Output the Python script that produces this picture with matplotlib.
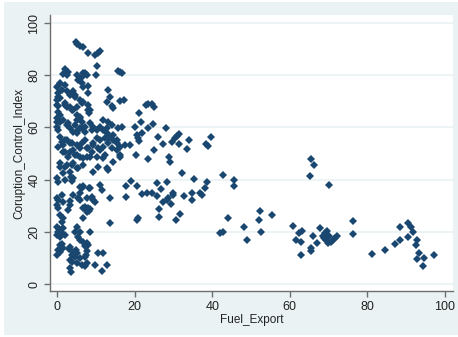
import matplotlib
matplotlib.use('Agg')
import matplotlib.pyplot as plt
from matplotlib.patches import Rectangle

plt.rcParams['font.family'] = ['Liberation Sans', 'DejaVu Sans']

fuel_export = [
    4.9, 5.1, 5.9, 6.8, 8.1, 9.8, 10.6, 11.1, 10.2, 10.0,
    15.6, 16.2, 16.7, 13.2, 13.7, 16.2, 17.3, 13.0, 14.5, 14.1,
    2.1, 2.9, 2.5, 1.6, 5.1, 6.8, 7.7, 6.4, 7.2, 5.5,
    6.4, 6.8, 8.1, 0.3, 1.2, 0.3, 0.8, 0.0, 0.8, 0.1,
    0.3, 0.0, 0.2, 0.3, 2.1, 2.5, 3.4, 4.2, 4.6, 3.8,
    4.6, 8.1, 6.8, 8.1, 8.5, 5.9, 6.4, 8.1, 8.3, 2.1,
    3.4, 4.2, 5.1, 5.9, 5.1, 3.8, 2.1, 2.5, 0.8, 0.0,
    1.6, 2.9, 0.0, 0.8, 0.1, 5.9, 5.1, 6.4, 2.5, 3.4,
    4.6, 5.5, 6.4, 7.2, 4.2, 5.1, 5.9, 0.3, 0.8, 2.1,
    3.4, 1.6, 1.2, 0.3, 1.6, 2.5, 3.8, 5.1, 6.4, 4.2,
    5.9, 5.1, 2.9, 2.1, 3.4, 4.6, 5.9, 7.2, 7.7, 6.8,
    8.1, 7.7, 9.4, 8.9, 7.2, 8.5, 11.9, 13.2, 14.1, 9.4,
    10.2, 8.9, 11.9, 12.8, 13.7, 12.4, 14.5, 13.2, 15.4, 14.1,
    16.2, 15.4, 17.5, 10.2, 9.4, 8.5, 10.2, 12.4, 11.1, 16.2,
    11.1, 12.8, 13.2, 14.5, 15.4, 11.1, 11.9, 10.6, 15.8, 16.7,
    0.8, 2.5, 4.2, 3.4, 1.6, 5.5, 6.8, 0.8, 2.1, 3.8,
    5.1, 0.3, 2.1, 4.2, 0.0, 3.5, 3.8, 10.6, 9.4, 13.2,
    11.9, 14.5, 16.2, 12.8, 5.9, 6.8, 8.5, 11.1, 11.5, 6.4,
    8.3, 4.2, 5.9, 7.7, 9.4, 8.9, 5.9, 5.5, 9.8, 0.0,
    1.2, 1.6, 0.3, 0.0, 0.3, 3.4, 2.9, 3.4, 6.8, 7.7,
    8.5, 7.2, 8.0, 8.2, 7.7, 13.7, 6.8, 13.7, 0.8, 1.6,
    1.2, 0.0, 0.3, 1.6, 2.1, 0.8, 0.0, 1.2, 0.5, 5.1,
    5.9, 5.5, 4.6, 5.9, 6.8, 8.5, 7.7, 8.1, 7.2, 7.8,
    7.5, 0.8, 0.0, 1.6, 0.8, 1.2, 0.3, 3.4, 4.2, 5.1,
    3.8, 4.6, 5.9, 3.2, 4.8, 7.2, 10.6, 11.9, 3.8, 5.1,
    6.4, 7.7, 3.4, 7.2, 9.8, 12.8, 11.5, 3.4, 3.5,
    17.8, 19.0, 20.5, 17.8, 21.8, 23.1, 24.4, 25.9, 25.9, 26.7,
    28.4, 27.4, 28.3, 28.7, 29.8, 30.0, 29.3, 26.4, 26.4, 20.5,
    21.0, 30.8, 31.7, 32.1, 32.8, 34.9, 34.7, 35.4, 36.9, 37.3,
    38.1, 38.7, 42.7, 42.0, 42.9, 44.0, 22.9, 23.5, 24.4, 25.0,
    21.1, 20.1, 21.6, 20.7, 20.9, 21.2, 22.0, 23.5, 24.7, 28.1,
    26.0, 27.4, 29.6, 30.4, 30.9, 31.5, 31.5, 34.1, 33.4, 38.4,
    39.0, 39.6, 25.1, 20.4, 23.5, 28.9, 29.1, 18.8,
    45.6, 45.6, 65.1, 70.0, 48.1, 49.0, 52.2, 52.0, 52.7, 55.4,
    60.8, 61.5, 62.5, 63.1, 62.8, 63.0, 65.5, 65.5, 66.0, 67.0,
    67.9, 68.6, 69.0, 69.5, 68.8, 70.0, 69.3, 69.8, 70.5, 71.1,
    71.6, 72.1, 76.3, 76.3, 81.3, 84.5, 87.0, 88.3, 88.3, 90.5,
    91.3, 91.8, 90.5, 92.8, 92.4, 93.2, 92.8, 94.6, 94.3, 97.2,
    65.5, 66.2,
]

control_index = [
    92.8, 92.0, 91.2, 90.7, 88.6, 87.7, 88.6, 89.4, 83.5, 80.1,
    81.7, 81.3, 81.0, 74.3, 71.5, 70.2, 70.5, 69.9, 67.3, 68.2,
    82.3, 81.3, 80.1, 80.5, 80.1, 81.0, 80.1, 79.5, 80.7, 78.2,
    76.9, 75.4, 75.7, 75.7, 74.3, 73.1, 71.2, 68.6, 76.9, 75.4,
    71.8, 70.5, 68.2, 66.0, 76.2, 73.8, 72.4, 73.8, 71.8, 73.1,
    72.4, 73.1, 69.9, 68.6, 66.7, 70.5, 69.2, 66.7, 65.4, 68.6,
    67.9, 66.7, 64.8, 63.5, 67.9, 66.7, 69.2, 67.9, 64.8, 62.2,
    62.8, 61.6, 63.5, 62.2, 60.3, 64.1, 62.8, 62.2, 60.9, 59.7,
    60.9, 59.0, 59.7, 58.4, 58.4, 57.7, 59.7, 59.0, 56.4, 55.2,
    53.9, 53.3, 54.5, 52.6, 50.7, 55.2, 53.9, 53.3, 53.9, 51.3,
    52.0, 49.4, 48.8, 50.7, 50.7, 49.4, 48.8, 55.2, 52.0, 48.2,
    52.0, 48.8, 53.3, 50.7, 60.3, 61.6, 62.8, 62.2, 60.9, 60.3,
    59.0, 59.0, 59.0, 57.7, 56.4, 55.8, 55.2, 53.9, 53.9, 52.0,
    52.6, 51.3, 53.3, 55.8, 53.9, 48.8, 48.8, 49.4, 51.3, 49.4,
    60.3, 59.7, 55.8, 57.1, 55.2, 55.2, 52.6, 52.0, 59.7, 60.3,
    44.9, 45.6, 46.2, 43.0, 42.5, 44.3, 45.6, 46.2, 44.9, 45.6,
    44.3, 39.2, 39.8, 40.5, 40.6, 40.9, 39.6, 44.9, 43.0, 43.7,
    48.2, 46.9, 48.8, 44.4, 37.3, 37.7, 36.7, 37.9, 36.0, 36.8,
    36.8, 34.1, 32.2, 32.8, 32.2, 33.4, 34.9, 33.0, 31.4, 32.8,
    34.1, 31.5, 29.0, 30.3, 32.3, 30.3, 28.4, 31.7, 29.0, 28.4,
    28.7, 29.6, 29.3, 28.0, 27.5, 32.8, 25.2, 23.3, 26.4, 25.2,
    23.9, 22.0, 20.0, 21.3, 18.8, 18.1, 18.8, 19.5, 21.0, 22.0,
    20.0, 18.1, 19.9, 17.0, 16.1, 19.8, 15.6, 14.9, 14.4, 12.5,
    11.0, 14.9, 11.1, 13.7, 12.4, 15.5, 13.0, 14.3, 12.4, 11.8,
    11.1, 10.5, 9.8, 13.5, 13.0, 10.5, 11.8, 11.8, 8.5, 7.9,
    7.3, 7.9, 9.3, 6.8, 7.3, 7.3, 5.0, 6.0, 4.7,
    37.4, 39.3, 37.7, 33.2, 34.5, 34.9, 34.9, 38.7, 33.8, 36.5,
    39.1, 31.4, 32.3, 33.0, 34.2, 34.9, 30.7, 28.9, 25.6, 24.6,
    25.3, 24.6, 26.9, 42.5, 33.6, 34.9, 32.3, 40.3, 34.9, 34.2,
    36.8, 39.1, 41.6, 19.5, 19.9, 25.4, 68.6, 69.0, 69.0, 67.9,
    65.4, 60.3, 62.2, 57.1, 55.8, 54.9, 57.7, 59.9, 61.2, 59.9,
    56.2, 53.6, 54.3, 55.8, 56.7, 57.5, 53.6, 55.2, 51.7, 53.6,
    52.9, 56.2, 51.3, 49.5, 47.8, 48.8, 46.9, 53.3,
    40.0, 37.7, 41.3, 38.0, 21.7, 17.0, 27.8, 24.4, 19.9, 26.6,
    22.1, 17.0, 19.5, 20.4, 16.1, 11.2, 13.8, 12.8, 18.3, 15.7,
    21.5, 18.3, 19.5, 20.5, 17.5, 18.5, 16.8, 15.7, 16.1, 17.0,
    17.6, 18.3, 24.0, 19.2, 11.4, 12.9, 15.4, 21.7, 17.0, 23.4,
    21.7, 19.9, 18.0, 17.0, 15.1, 11.9, 9.7, 10.0, 6.9, 11.0,
    47.8, 45.6,
]

x_ticks = [0, 20, 40, 60, 80, 100]
y_ticks = [0, 20, 40, 60, 80, 100]
x_label = 'Fuel_Export'
y_label = 'Coruption_Control_Index'

W, H = 458, 337
fig = plt.figure(figsize=(W / 100, H / 100), dpi=100, facecolor='white')
fig.patches.append(Rectangle((4 / W, 2 / H), (W - 4) / W, (335 - 2) / H,
                             transform=fig.transFigure, facecolor='#EAF2F3',
                             edgecolor='none', zorder=-10))

ax = fig.add_axes([50 / W, 1 - 291 / H, 403 / W, 276 / H])
ax.set_zorder(1)
ax.set_facecolor('white')
ax.set_xlim(-1.8, 102.06)
ax.set_ylim(-2.68, 103.07)

ax.plot(fuel_export, control_index, linestyle='none', marker='D',
        color='#1A476F', markersize=3.6, markeredgewidth=0, zorder=3)

ax.set_xticks(x_ticks)
ax.set_yticks(y_ticks)
ax.yaxis.grid(True, color='#EAF2F3', linewidth=1.2)
ax.set_axisbelow(True)

for s in ['top', 'right']:
    ax.spines[s].set_visible(False)
for s in ['left', 'bottom']:
    ax.spines[s].set_color('#6E6E6E')
    ax.spines[s].set_linewidth(1.0)

ax.tick_params(direction='out', length=4, width=1, color='#6E6E6E',
               labelsize=9, labelcolor='#222222', pad=3)
for lab in ax.get_yticklabels():
    lab.set_rotation(90)
    lab.set_va('center')

ax.set_xlabel(x_label, fontsize=8.5, color='#222222', labelpad=1)
ax.set_ylabel(y_label, fontsize=8.5, color='#222222', labelpad=2)

fig.savefig('out.png', dpi=100, facecolor=fig.get_facecolor())
